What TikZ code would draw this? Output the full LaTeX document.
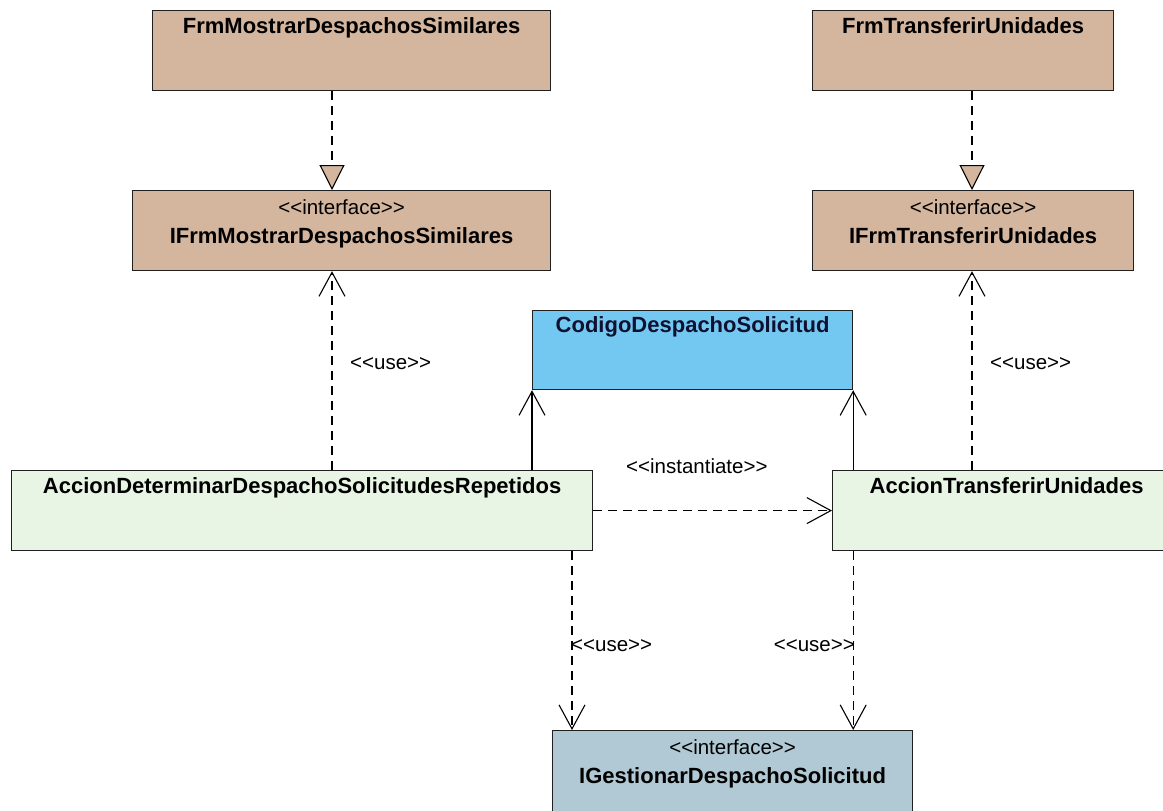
\documentclass[tikz,border=0pt]{standalone}
\usepackage{fontspec}
\setmainfont{Liberation Sans}
\usetikzlibrary{arrows.meta}

\definecolor{tanc}{RGB}{212,182,158}
\definecolor{bluec}{RGB}{114,200,240}
\definecolor{greenc}{RGB}{232,244,228}
\definecolor{greyblue}{RGB}{176,201,212}
\definecolor{boxline}{RGB}{32,32,32}
\definecolor{navytext}{RGB}{16,16,48}

% stereotype text with plain angle brackets (no guillemet ligature)
\newcommand{\stereo}[1]{{<}{<}#1{>}{>}}

\tikzset{
  box/.style={draw=boxline, line width=1.2pt, inner sep=0pt, anchor=north west},
  nm/.style={font=\fontsize{22}{24}\selectfont\bfseries, anchor=base, inner sep=0pt},
  st/.style={font=\fontsize{20.5}{24}\selectfont, anchor=base, inner sep=0pt},
  lbl/.style={font=\fontsize{20.5}{24}\selectfont, anchor=base west, inner sep=0pt},
  dashline/.style={line width=1.1pt, dash pattern=on 9pt off 6pt},
  realize/.style={dashline, -{Triangle[length=25pt, width=25pt, fill=tanc, line width=1.1pt]}},
  usedep/.style={dashline, -{Straight Barb[length=24pt, width=26pt, line width=1.1pt]}},
  assoc/.style={line width=1.1pt, -{Straight Barb[length=24pt, width=26pt, line width=1.1pt]}},
}

\begin{document}
\begin{tikzpicture}[x=1pt, y=1pt]
  \useasboundingbox (0,0) rectangle (1163,-811);
  \fill[white] (0,0) rectangle (1163,-811);

  % x positions of the vertical connectors
  \coordinate (L1) at (332,0);
  \coordinate (R1) at (972,0);
  \coordinate (G1) at (572,0);

  % classes and interfaces
  \node[box, fill=tanc, minimum width=398pt, minimum height=80pt] (frm1) at (152,-10) {};
  \node[nm] (frm1t) at ([yshift=-23.5pt]frm1.north) {FrmMostrarDespachosSimilares};

  \node[box, fill=tanc, minimum width=418pt, minimum height=80pt] (ifrm1) at (132,-190) {};
  \node[st] (ifrm1s) at ([yshift=-24pt]ifrm1.north) {\stereo{interface}};
  \node[nm] (ifrm1t) at ([yshift=-53pt]ifrm1.north) {IFrmMostrarDespachosSimilares};

  \node[box, fill=tanc, minimum width=301pt, minimum height=80pt] (frm2) at (812,-10) {};
  \node[nm] (frm2t) at ([yshift=-23.5pt]frm2.north) {FrmTransferirUnidades};

  \node[box, fill=tanc, minimum width=321pt, minimum height=80pt] (ifrm2) at (812,-190) {};
  \node[st] (ifrm2s) at ([yshift=-24pt]ifrm2.north) {\stereo{interface}};
  \node[nm] (ifrm2t) at ([yshift=-53pt]ifrm2.north) {IFrmTransferirUnidades};

  \node[box, fill=bluec, minimum width=320pt, minimum height=79pt] (cod) at (532,-310) {};
  \node[nm, text=navytext] (codt) at ([yshift=-22pt]cod.north) {CodigoDespachoSolicitud};

  \node[box, fill=greenc, minimum width=581pt, minimum height=80pt] (acc1) at (11,-470) {};
  \node[nm] (acc1t) at ([yshift=-23pt]acc1.north) {AccionDeterminarDespachoSolicitudesRepetidos};

  \node[box, fill=greenc, minimum width=348pt, minimum height=80pt] (acc2) at (832,-470) {};
  \node[nm] (acc2t) at ([yshift=-23pt]acc2.north) {AccionTransferirUnidades};

  \node[box, fill=greyblue, minimum width=360pt, minimum height=100pt] (igest) at (552,-730) {};
  \node[st] (igests) at ([yshift=-24pt]igest.north) {\stereo{interface}};
  \node[nm] (igestt) at ([yshift=-53pt]igest.north) {IGestionarDespachoSolicitud};

  % realizations
  \draw[realize] (frm1.south -| L1) -- (ifrm1.north -| L1);
  \draw[realize] (frm2.south -| R1) -- (ifrm2.north -| R1);

  % use dependencies towards the form interfaces
  \draw[usedep] (acc1.north -| L1) -- (ifrm1.south -| L1);
  \draw[usedep] (acc2.north -| R1) -- (ifrm2.south -| R1);
  \node[lbl] (use1) at (350,-369) {\stereo{use}};
  \node[lbl] (use2) at (990,-369) {\stereo{use}};

  % associations to CodigoDespachoSolicitud
  \draw[assoc] (acc1.north -| cod.south west) -- (cod.south west);
  \draw[assoc] (acc2.north -| cod.south east) -- (cod.south east);

  % instantiation
  \draw[usedep] (acc1.east) -- (acc2.west);
  \node[lbl] (inst) at (626,-473) {\stereo{instantiate}};

  % use dependencies towards IGestionarDespachoSolicitud
  \draw[usedep] (acc1.south -| G1) -- (igest.north -| G1);
  \draw[usedep] (acc2.south -| cod.south east) -- (igest.north -| cod.south east);
  \node[lbl] (use3) at (571,-651) {\stereo{use}};
  \node[lbl, anchor=base east] (use4) at (855,-651) {\stereo{use}};
\end{tikzpicture}
\end{document}
